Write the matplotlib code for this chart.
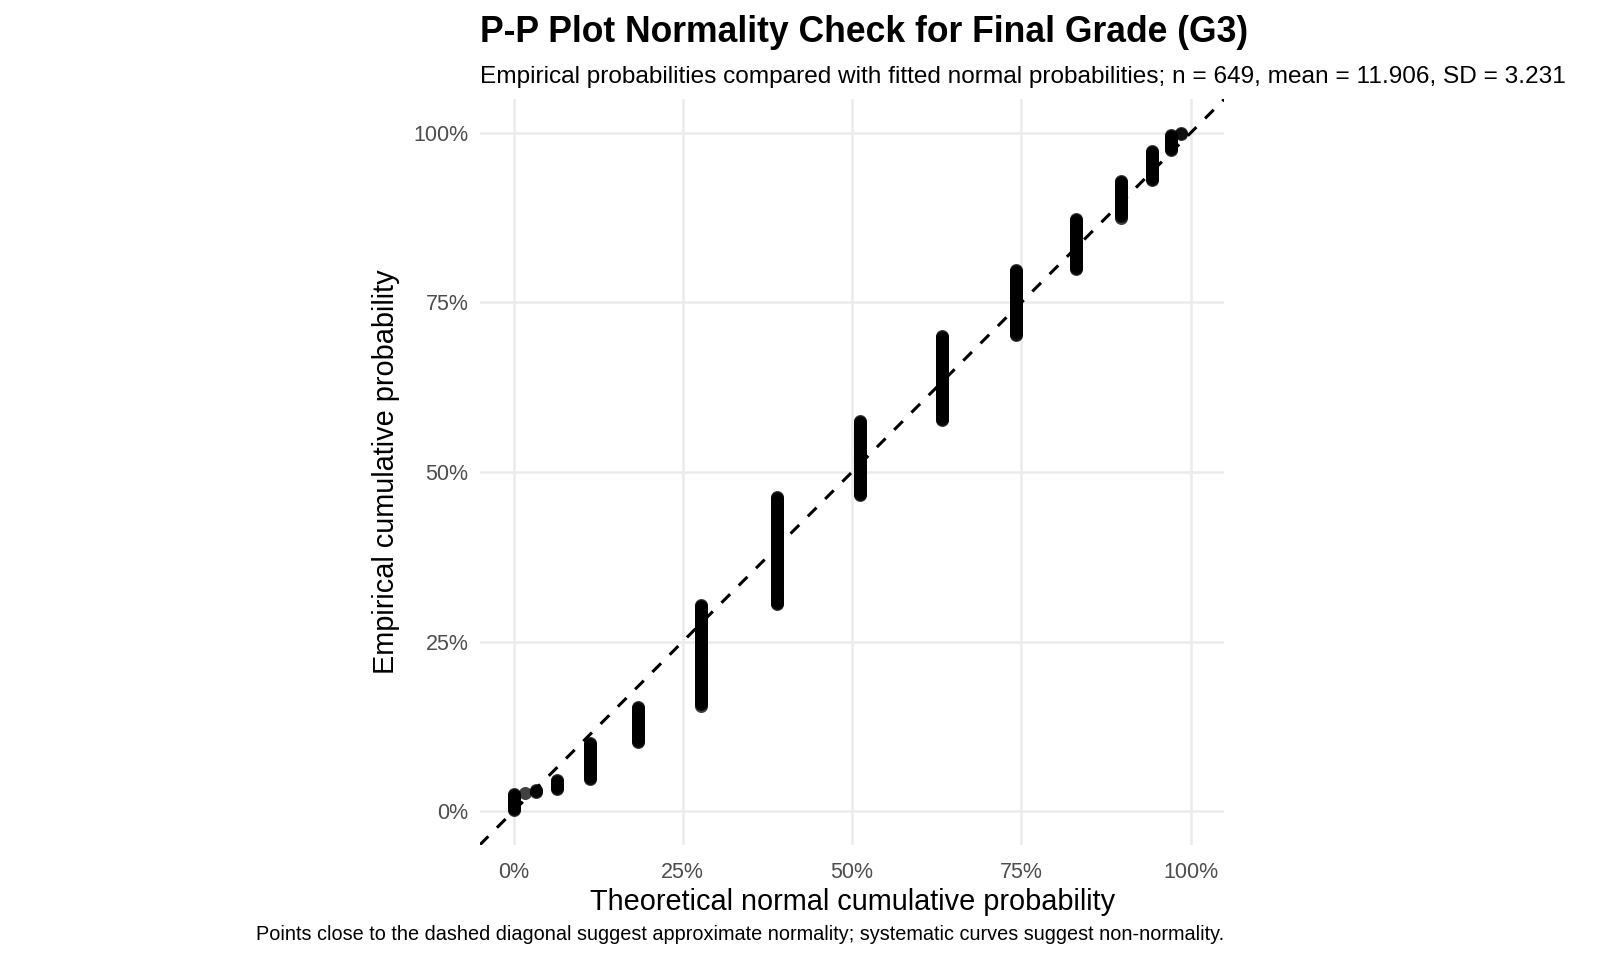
import numpy as np
from matplotlib import pyplot as plt
from matplotlib.ticker import PercentFormatter

plt.rcParams['font.family'] = ['Liberation Sans', 'DejaVu Sans']

# Final grade values and how many students got each one (n = 649)
grades = [0, 1, 5, 6, 7, 8, 9, 10, 11, 12, 13, 14, 15, 16, 17, 18, 19]
counts = [15, 1, 1, 3, 10, 35, 35, 97, 104, 72, 82, 63, 49, 36, 29, 15, 2]
# Fitted normal cumulative probability at each grade
theo_p = [0.0001, 0.0004, 0.0163, 0.0338, 0.0645, 0.1133, 0.1843, 0.2776,
          0.3897, 0.5116, 0.6326, 0.7415, 0.8310, 0.8975, 0.9426, 0.9704, 0.9860]

ticks = [0, 0.25, 0.5, 0.75, 1.0]

# one point per student, stacked by rank
n = sum(counts)
xs = np.repeat(theo_p, counts)
ys = np.arange(1, n + 1) / n

fig = plt.figure(dpi=100, figsize=(16, 9.6))
ax = fig.add_axes([0.2998, 0.1198, 0.7653 - 0.2998, 0.8969 - 0.1198])

ax.scatter(xs, ys, s=88, c='black', alpha=0.75, linewidths=0, zorder=2)
ax.axline((0, 0), slope=1, color='black', linestyle=(0, (4, 4)),
          linewidth=2.2, zorder=3)

ax.set_xlim(-0.05, 1.05)
ax.set_ylim(-0.05, 1.05)
ax.set_xticks(ticks)
ax.set_yticks(ticks)
ax.xaxis.set_major_formatter(PercentFormatter(1.0, decimals=0))
ax.yaxis.set_major_formatter(PercentFormatter(1.0, decimals=0))
ax.grid(True, color='#EBEBEB', linewidth=1.8, zorder=0)
ax.set_axisbelow(True)
for s in ax.spines.values():
    s.set_visible(False)
ax.tick_params(axis='both', length=0, labelsize=15.5, labelcolor='#4D4D4D')
ax.tick_params(axis='x', pad=12)
ax.tick_params(axis='y', pad=8)

ax.set_xlabel('Theoretical normal cumulative probability', fontsize=20.8, labelpad=4)
ax.set_ylabel('Empirical cumulative probability', fontsize=20.8, labelpad=10)

fig.text(0.2998, 0.956, 'P-P Plot Normality Check for Final Grade (G3)',
         fontsize=25.6, fontweight='bold', ha='left', va='baseline')
fig.text(0.2998, 0.914, 'Empirical probabilities compared with fitted normal probabilities; '
         'n = 649, mean = 11.906, SD = 3.231',
         fontsize=17.6, ha='left', va='baseline')
fig.text(0.7653, 0.021, 'Points close to the dashed diagonal suggest approximate normality; '
         'systematic curves suggest non-normality.',
         fontsize=14.3, ha='right', va='baseline')

fig.savefig('out.png')
